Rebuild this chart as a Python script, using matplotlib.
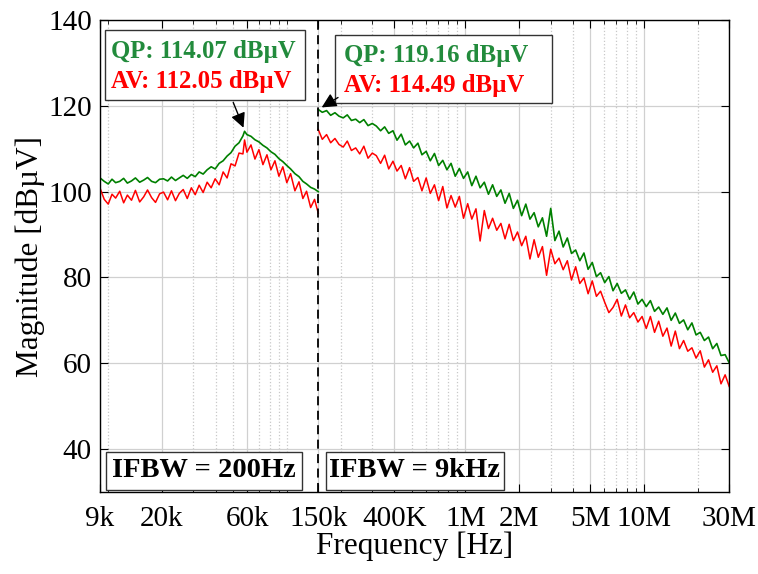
import matplotlib
matplotlib.use("Agg")
import matplotlib.pyplot as plt
from matplotlib.patches import Rectangle
from matplotlib.ticker import LogLocator, NullFormatter, FixedLocator

plt.rcParams['font.family'] = ['Liberation Serif', 'DejaVu Serif']

# ---- data ----
# sweep 1 (IFBW = 200 Hz), frequencies in kHz
f_low = [9, 9.5, 10, 10.5, 11, 11.6, 12.2, 12.8, 13.5, 14.2, 15, 15.8, 16.6, 17.5,
         18.4, 19.4, 20.4, 21.5, 22.6, 23.8, 25, 26.3, 27.7, 29.2, 30.7, 32.3, 34,
         35.8, 37.7, 39.7, 41.8, 44, 46.3, 48.7, 51.3, 54, 56.8, 58, 59.8, 63, 66.3,
         69.8, 73.5, 77.4, 81.5, 85.8, 90.3, 95, 100, 105, 111, 117, 123, 129, 136,
         143, 150]
qp_low = [103.2, 102.4, 101.8, 102.9, 102.1, 102.4, 103.1, 102.0, 102.5, 103.2,
          102.2, 102.7, 103.3, 102.4, 102.1, 102.9, 103.0, 102.5, 103.4, 102.6,
          103.2, 103.8, 103.1, 104.0, 103.5, 104.6, 104.1, 105.1, 105.8, 105.3,
          106.6, 107.2, 108.3, 109.1, 110.6, 111.4, 113.0, 114.07,
          113.3, 112.9, 112.1, 111.6, 110.8, 110.2, 109.3, 108.7, 107.7, 107.0,
          106.1, 105.3, 104.2, 103.5, 102.4, 101.8, 101.0, 100.6, 100.0]
av_low = [100.8, 98.2, 97.1, 99.4, 98.5, 100.1, 97.4, 99.2, 98.0, 100.3,
          97.6, 98.8, 100.4, 98.6, 97.5, 99.5, 99.9, 98.1, 100.2, 97.9,
          99.6, 100.5, 98.4, 100.9, 99.3, 101.5, 99.8, 102.2, 100.9, 103.0,
          101.6, 104.6, 103.2, 106.5, 106.0, 109.0, 108.8, 112.05,
          109.2, 110.9, 107.6, 109.8, 106.3, 108.6, 105.1, 107.2, 103.6, 105.8,
          102.1, 104.2, 100.2, 102.3, 98.4, 100.1, 96.3, 98.2, 95.0]

# sweep 2 (IFBW = 9 kHz), frequencies in kHz
f_high = [150, 158, 167, 176, 186, 196, 207, 218, 230, 243, 256, 270, 285, 301, 317,
          335, 353, 372, 393, 414, 437, 461, 487, 513, 542, 571, 603, 636, 671, 708,
          747, 788, 831, 877, 925, 976, 1030, 1086, 1146, 1209, 1276, 1346, 1420, 1498,
          1580, 1667, 1759, 1856, 1958, 2065, 2179, 2299, 2425, 2559, 2700, 2848, 3005,
          3170, 3344, 3528, 3722, 3927, 4143, 4371, 4611, 4865, 5132, 5415, 5713, 6027,
          6358, 6708, 7077, 7466, 7877, 8310, 8767, 9249, 9758, 10295, 10861, 11458,
          12088, 12753, 13455, 14195, 14975, 15799, 16668, 17585, 18552, 19572, 20649,
          21784, 22982, 24246, 25580, 26987, 28471, 30000]
qp_high = [119.16, 118.5, 118.9, 117.8, 118.4, 117.6, 117.2, 117.9, 116.6, 116.9,
           116.1, 116.8, 115.4, 115.9, 115.3, 114.2, 115.1, 113.6, 114.2, 112.0,
           113.4, 110.9, 111.8, 110.2, 111.3, 108.6, 109.4, 107.2, 108.9, 106.1,
           107.3, 105.1, 106.6, 103.6, 105.4, 103.1, 104.6, 101.4, 103.6, 100.9,
           102.2, 99.4, 101.6, 98.9, 100.4, 97.3, 99.6, 96.1, 98.0, 94.4,
           97.1, 93.6, 95.1, 91.8, 93.9, 89.6, 96.1, 88.6, 90.8, 87.1,
           89.2, 85.6, 86.4, 83.9, 85.7, 81.9, 83.5, 80.2, 81.1, 78.8,
           80.2, 76.9, 78.6, 76.3, 77.1, 74.9, 76.6, 73.8, 74.9, 73.2,
           74.6, 72.1, 73.1, 71.4, 72.9, 70.0, 71.7, 69.3, 70.1, 67.8,
           69.4, 66.6, 67.2, 65.3, 66.1, 63.4, 64.6, 61.8, 62.0, 60.1]
av_high = [114.49, 112.2, 113.3, 111.4, 112.4, 111.0, 110.4, 111.8, 109.6, 110.2,
           108.8, 110.6, 107.8, 109.0, 108.4, 106.6, 108.5, 105.3, 107.1, 104.8,
           106.1, 103.0, 105.6, 102.4, 103.3, 100.2, 103.2, 99.6, 101.6, 97.9,
           101.2, 96.2, 99.1, 96.4, 98.9, 93.8, 97.2, 93.6, 96.0, 88.5,
           95.6, 91.4, 93.8, 91.0, 92.6, 89.0, 92.4, 88.6, 90.6, 87.4,
           89.6, 84.3, 88.8, 84.7, 87.2, 80.5, 86.6, 83.2, 84.5, 81.8,
           83.9, 79.4, 82.5, 78.6, 79.9, 76.2, 79.2, 75.6, 76.8, 74.2,
           71.8, 73.0, 74.9, 71.0, 73.6, 70.6, 71.8, 69.6, 70.9, 68.1,
           70.9, 67.2, 69.8, 66.3, 68.2, 64.0, 67.5, 63.4, 65.3, 62.8,
           63.6, 61.2, 62.9, 59.1, 60.8, 57.9, 59.4, 55.2, 57.3, 54.6]

xtick_vals = [9e3, 20e3, 60e3, 150e3, 400e3, 1e6, 2e6, 5e6, 10e6, 30e6]
xtick_labels = ['9k', '20k', '60k', '150k', '400K', '1M', '2M', '5M', '10M', '30M']
ytick_vals = [40, 60, 80, 100, 120, 140]

qp_color = '#008000'
av_color = '#ff0000'
qp_text_color = '#228b3c'

fig = plt.figure(figsize=(7.58, 5.74), dpi=100)
ax = fig.add_axes([0.132, 0.143, 0.830, 0.822])

ax.plot([f * 1e3 for f in f_low], qp_low, color=qp_color, lw=1.2)
ax.plot([f * 1e3 for f in f_low], av_low, color=av_color, lw=1.1)
ax.plot([f * 1e3 for f in f_high], qp_high, color=qp_color, lw=1.2)
ax.plot([f * 1e3 for f in f_high], av_high, color=av_color, lw=1.1)

ax.axvline(150e3, color='black', ls=(0, (5, 3)), lw=1.3)

ax.set_xscale('log')
ax.set_xlim(9e3, 30e6)
ax.set_ylim(30, 140)
ax.xaxis.set_major_locator(FixedLocator(xtick_vals))
ax.set_xticklabels(xtick_labels)
ax.xaxis.set_minor_locator(LogLocator(base=10, subs=range(1, 10), numticks=20))
ax.xaxis.set_minor_formatter(NullFormatter())
ax.set_yticks(ytick_vals)

ax.grid(which='major', color='#d0d0d0', lw=0.9)
ax.grid(which='minor', axis='x', color='#c8c8c8', ls=':', lw=0.9)
ax.set_axisbelow(True)
ax.tick_params(which='both', direction='in', top=True, right=True, labelsize=21)
ax.tick_params(which='major', length=6)
ax.tick_params(which='minor', length=3)
ax.tick_params(axis='x', pad=10)
ax.tick_params(axis='y', pad=6)
for s in ax.spines.values():
    s.set_linewidth(1.0)

ax.set_xlabel('Frequency [Hz]', fontsize=22.5, labelpad=0)
ax.set_ylabel('Magnitude [dBµV]', fontsize=22.5, labelpad=2)

# value boxes
ax.add_patch(Rectangle((0.008, 0.831), 0.318, 0.148, transform=ax.transAxes,
                       facecolor='white', edgecolor='#333333', lw=1.0, zorder=5))
ax.text(0.018, 0.933, 'QP: 114.07 dBµV', transform=ax.transAxes, color=qp_text_color,
        fontsize=17.8, fontweight='bold', va='center', zorder=6)
ax.text(0.018, 0.869, 'AV: 112.05 dBµV', transform=ax.transAxes, color=av_color,
        fontsize=17.8, fontweight='bold', va='center', zorder=6)
ax.annotate('', xy=(58e3, 114.3), xytext=(0.210, 0.831), textcoords='axes fraction',
            arrowprops=dict(arrowstyle='-|>', color='black', lw=1.0, mutation_scale=22),
            zorder=6)

ax.add_patch(Rectangle((0.374, 0.825), 0.345, 0.144, transform=ax.transAxes,
                       facecolor='white', edgecolor='#333333', lw=1.0, zorder=5))
ax.text(0.388, 0.926, 'QP: 119.16 dBµV', transform=ax.transAxes, color=qp_text_color,
        fontsize=17.8, fontweight='bold', va='center', zorder=6)
ax.text(0.388, 0.861, 'AV: 114.49 dBµV', transform=ax.transAxes, color=av_color,
        fontsize=17.8, fontweight='bold', va='center', zorder=6)
ax.annotate('', xy=(152e3, 119.3), xytext=(0.382, 0.839), textcoords='axes fraction',
            arrowprops=dict(arrowstyle='-|>', color='black', lw=1.0, mutation_scale=22),
            zorder=6)

# IFBW boxes
ax.add_patch(Rectangle((0.0095, 0.004), 0.3115, 0.081, transform=ax.transAxes,
                       facecolor='white', edgecolor='#333333', lw=1.0, zorder=5))
ax.text(0.165, 0.0445, 'IFBW = 200Hz', transform=ax.transAxes, fontsize=20.5,
        fontweight='bold', ha='center', va='center', zorder=6)
ax.add_patch(Rectangle((0.359, 0.004), 0.283, 0.081, transform=ax.transAxes,
                       facecolor='white', edgecolor='#333333', lw=1.0, zorder=5))
ax.text(0.5005, 0.0445, 'IFBW = 9kHz', transform=ax.transAxes, fontsize=20.5,
        fontweight='bold', ha='center', va='center', zorder=6)

fig.savefig('out.png', dpi=100)
